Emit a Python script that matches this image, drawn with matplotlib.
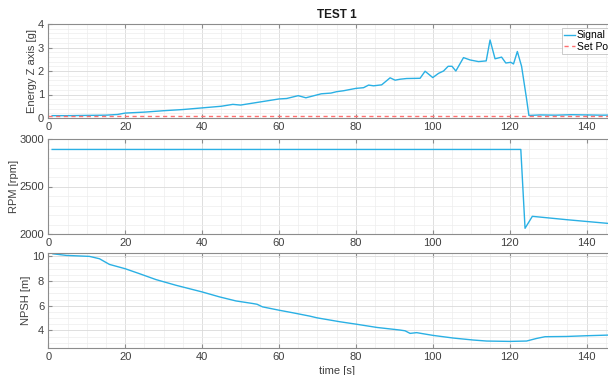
import matplotlib
matplotlib.use("Agg")
import matplotlib.pyplot as plt
from matplotlib.ticker import MultipleLocator

plt.rcParams['font.family'] = ['Liberation Sans', 'DejaVu Sans']

# Energy Z axis signal
t_energy = [1, 5, 10, 15, 18, 20, 25, 30, 35, 40, 45, 48, 50, 55, 60, 62, 65, 67, 71, 73.5,
            75, 76.8, 80, 82, 83.3, 84.6, 86.7, 88.9, 90.2, 91.5, 93.2, 96.7, 98, 100, 101.5,
            102.8, 104, 105, 106, 108, 109.7, 111.9, 113.9, 114.9, 116.2, 117.9, 119, 120.3,
            121, 122, 123.1, 124.4, 125, 128, 132, 136, 140, 144, 150]
e_energy = [0.10, 0.10, 0.11, 0.12, 0.15, 0.21, 0.25, 0.31, 0.36, 0.43, 0.50, 0.58, 0.55, 0.68,
            0.81, 0.83, 0.95, 0.86, 1.03, 1.06, 1.12, 1.16, 1.26, 1.29, 1.40, 1.37, 1.41, 1.71,
            1.61, 1.65, 1.68, 1.69, 1.99, 1.72, 1.90, 2.00, 2.20, 2.20, 2.00, 2.57, 2.47, 2.40,
            2.43, 3.32, 2.52, 2.59, 2.34, 2.37, 2.30, 2.83, 2.20, 0.81, 0.11, 0.13, 0.12, 0.14,
            0.13, 0.12, 0.13]
setpoint_value = 0.1

# RPM
t_rpm = [1, 122.9, 124.0, 125.9, 135, 145.5, 150]
rpm = [2890, 2890, 2060, 2186, 2150, 2112, 2100]

# NPSH
t_npsh = [1.2, 4.7, 10.7, 13.3, 15.9, 20, 23.7, 28, 33.2, 40, 44.5, 48.8, 53.2, 54.3, 55.7, 60,
          63.6, 68, 69.9, 75.9, 80, 85.5, 91.5, 92.8, 94.1, 95.8, 100, 105.4, 110.6, 114, 120,
          124.4, 127, 129.2, 134.8, 140, 145.5, 150]
npsh = [10.21, 10.08, 10.0, 9.81, 9.35, 9.0, 8.6, 8.12, 7.66, 7.12, 6.72, 6.39, 6.18, 6.12, 5.91,
        5.64, 5.43, 5.16, 5.02, 4.70, 4.51, 4.24, 4.03, 3.97, 3.76, 3.82, 3.60, 3.38, 3.22, 3.14,
        3.11, 3.14, 3.35, 3.49, 3.51, 3.57, 3.62, 3.63]

line_c = '#2ab0e4'
red_c = '#ff6f6f'
spine_c = '0.55'
txt_c = '0.25'

fig = plt.figure(figsize=(6.08, 3.75), dpi=100)
left, width = 48.3 / 608, (625 - 48.3) / 608
ax1 = fig.add_axes([left, 1 - 118 / 375, width, 94 / 375])
ax2 = fig.add_axes([left, 1 - 234 / 375, width, 95 / 375])
ax3 = fig.add_axes([left, 1 - 347.7 / 375, width, 94.4 / 375])


def style(ax, ymin, ymax, ymaj, ymin_step):
    ax.set_xlim(0, 150)
    ax.set_ylim(ymin, ymax)
    ax.xaxis.set_major_locator(MultipleLocator(20))
    ax.xaxis.set_minor_locator(MultipleLocator(5))
    ax.yaxis.set_major_locator(MultipleLocator(ymaj))
    ax.yaxis.set_minor_locator(MultipleLocator(ymin_step))
    ax.grid(True, which='major', color='0.85', linewidth=0.6)
    ax.grid(True, which='minor', color='0.93', linewidth=0.5)
    ax.set_axisbelow(True)
    for s in ax.spines.values():
        s.set_color(spine_c)
        s.set_linewidth(0.8)
    ax.tick_params(which='both', direction='in', top=True, right=True, colors=spine_c,
                   labelcolor=txt_c, labelsize=8, pad=3)
    ax.tick_params(which='major', length=3)
    ax.tick_params(which='minor', length=0)


ax1.plot(t_energy, e_energy, color=line_c, lw=1.0, label='Signal')
ax1.plot([0, 150], [setpoint_value, setpoint_value], color=red_c, lw=1.0, ls=(0, (3, 2.5)),
         label='Set Point')
style(ax1, 0, 4, 1, 0.2)
ax1.set_ylabel('Energy Z axis [g]', fontsize=8, color=txt_c, labelpad=0.5)
ax1.set_title('TEST 1', fontsize=8.5, fontweight='bold', color='0.1', pad=4)
leg = ax1.legend(loc='upper right', fontsize=7.5, frameon=True, fancybox=False,
                 handlelength=1.0, handletextpad=0.2, borderpad=0.25, labelspacing=0.15,
                 borderaxespad=0.35)
leg.get_frame().set_edgecolor('0.7')
leg.get_frame().set_linewidth(0.6)

ax2.plot(t_rpm, rpm, color=line_c, lw=1.0)
style(ax2, 2000, 3000, 500, 100)
ax2.set_ylabel('RPM [rpm]', fontsize=8, color=txt_c, labelpad=0.5)

ax3.plot(t_npsh, npsh, color=line_c, lw=1.0)
style(ax3, 2.6, 10.25, 2, 0.5)
ax3.set_ylabel('NPSH [m]', fontsize=8, color=txt_c, labelpad=0.5)
ax3.set_xlabel('time [s]', fontsize=8, color=txt_c, labelpad=3)

fig.savefig('out.png', dpi=100)
